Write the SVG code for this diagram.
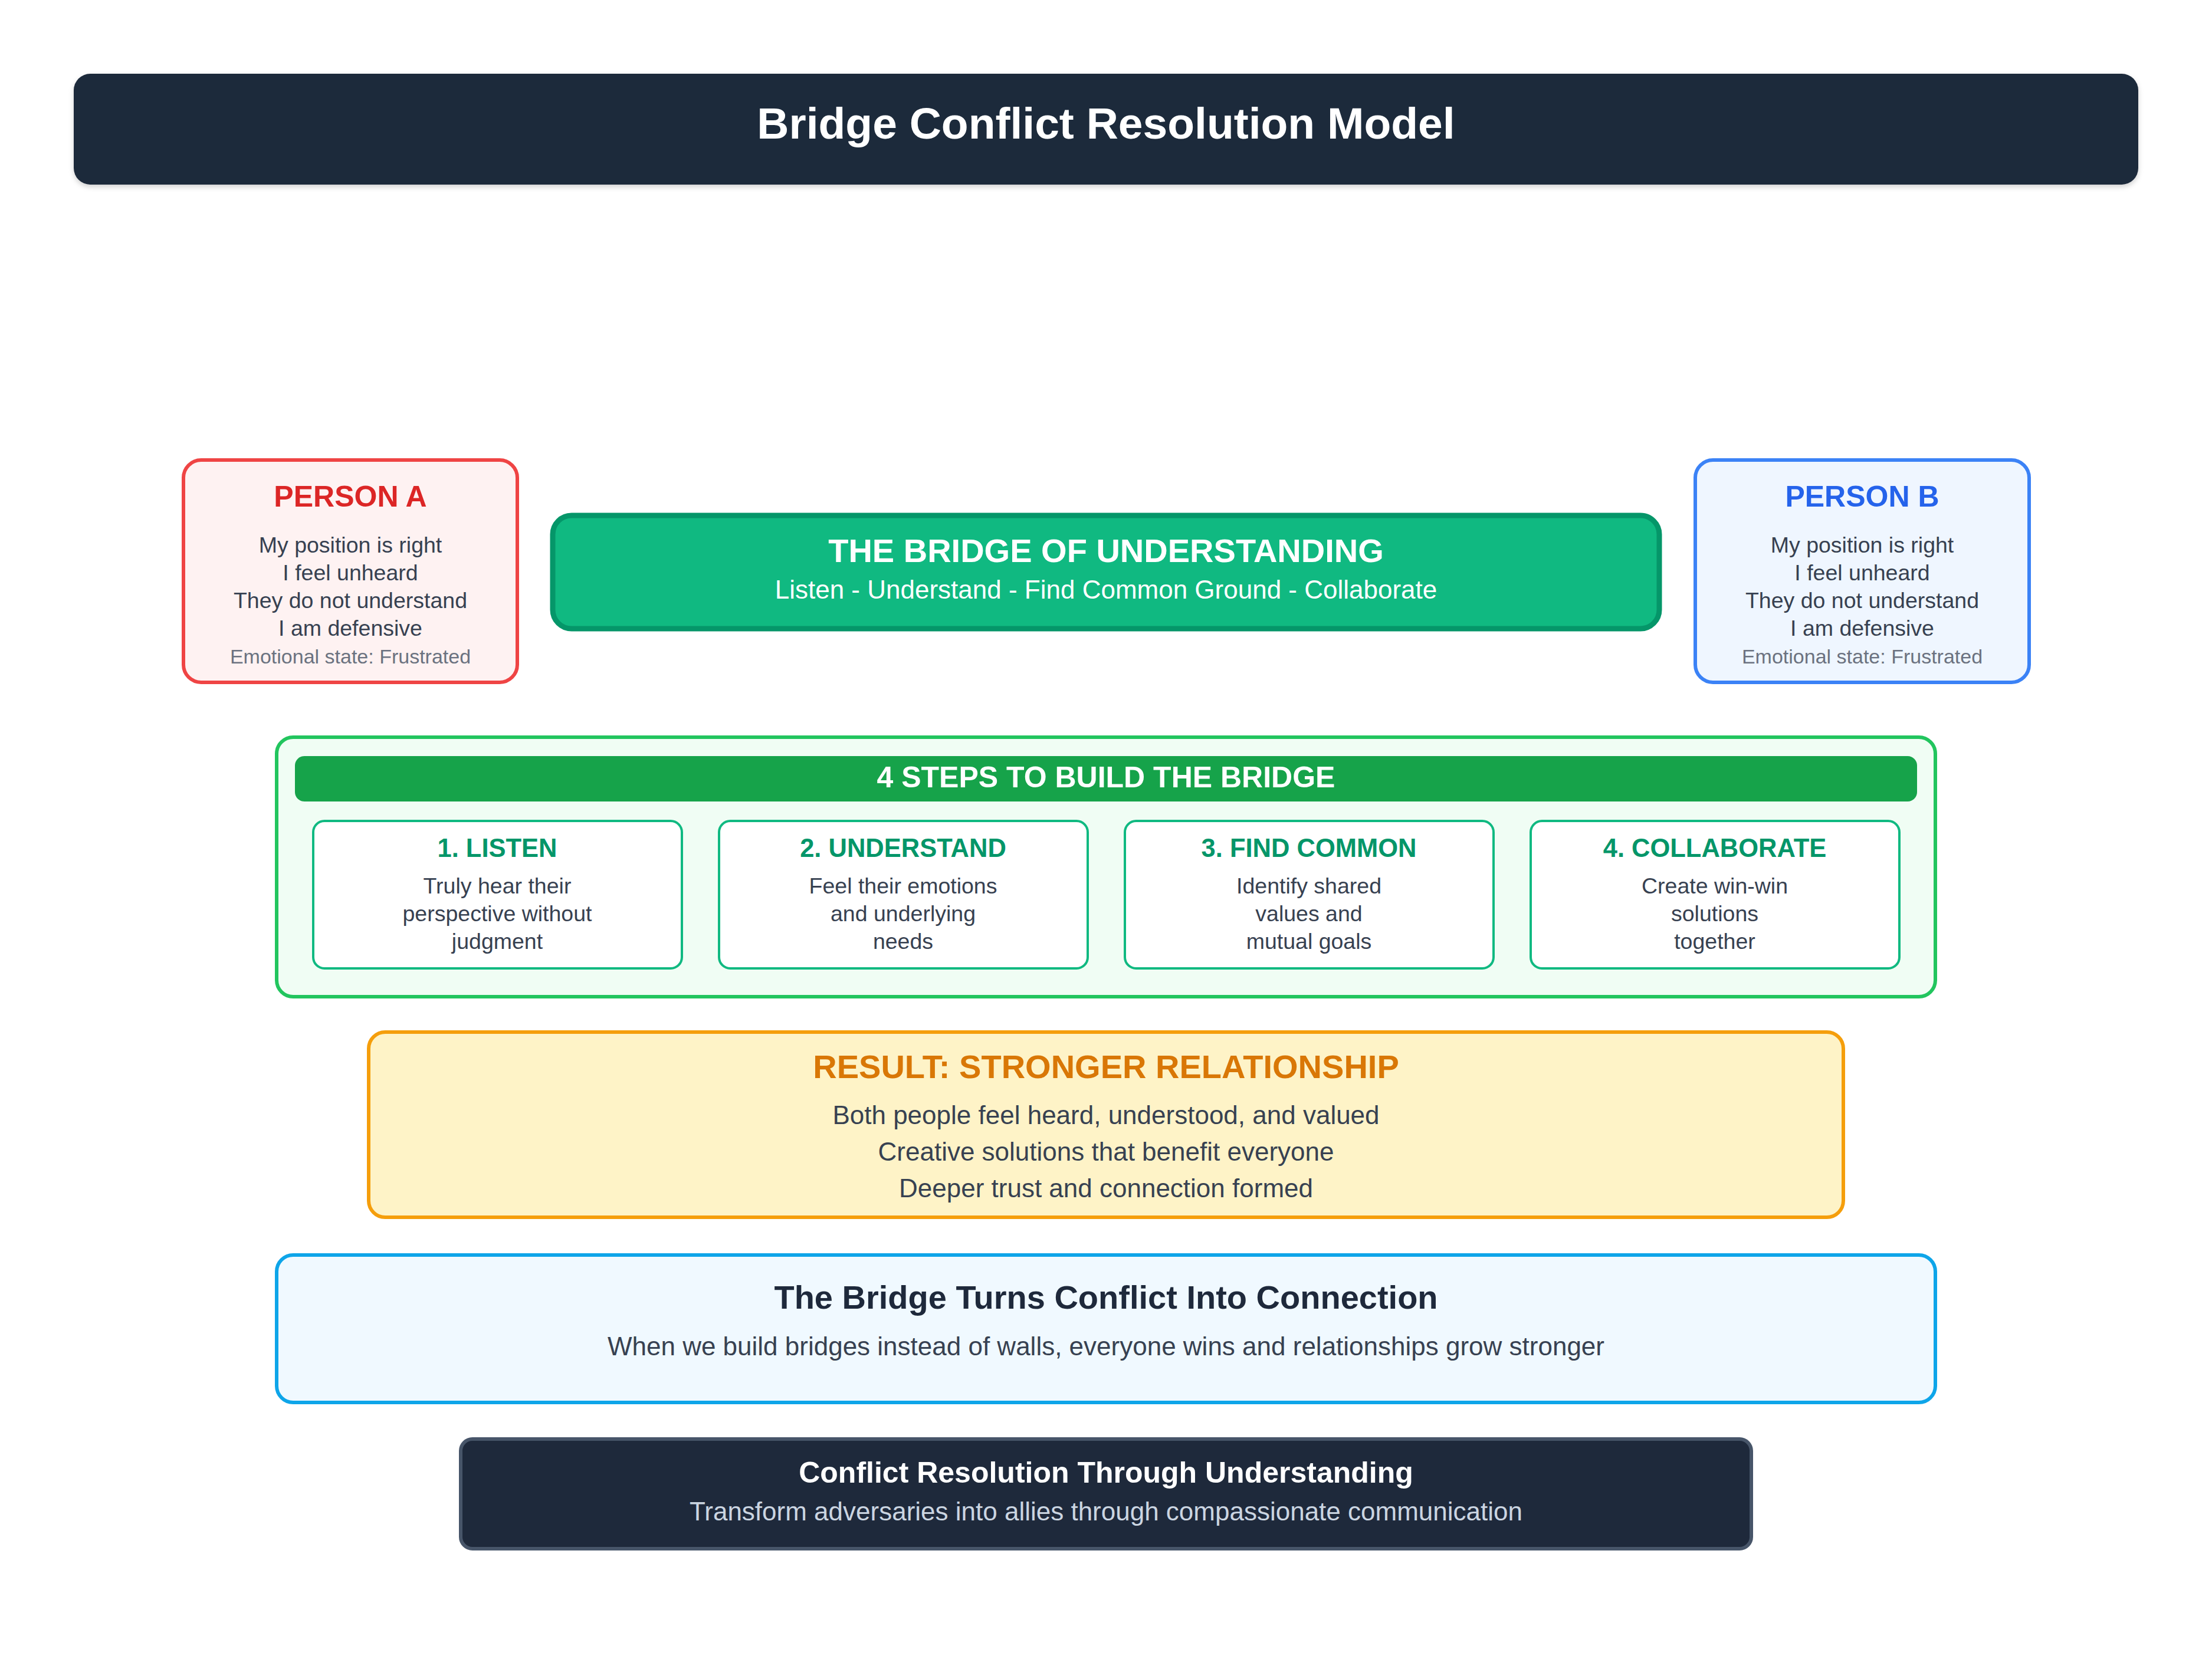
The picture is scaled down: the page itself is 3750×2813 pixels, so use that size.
<svg xmlns="http://www.w3.org/2000/svg" width="3750" height="2813" viewBox="0 0 3750 2813">
  <defs>
    <filter id="shadow" x="-5%" y="-20%" width="110%" height="150%">
      <feDropShadow dx="0" dy="4" stdDeviation="4" flood-color="#000000" flood-opacity="0.18"/>
    </filter>
    <style>
      text { font-family: "Liberation Sans", Arial, sans-serif; text-anchor: middle; }
      .b { font-weight: bold; }
      .body { fill: #374151; font-size: 37.5px; }
      .muted { fill: #6B7280; font-size: 34px; }
      .stepbox { fill: #FFFFFF; stroke: #10B981; stroke-width: 4; }
      .steptitle { fill: #059669; font-size: 43.5px; font-weight: bold; }
      .sub { font-size: 44px; }
    </style>
  </defs>
  <rect x="0" y="0" width="3750" height="2813" fill="#FFFFFF"/>

  <g id="header">
    <rect x="125" y="125" width="3500" height="188" rx="28" fill="#1E293B" filter="url(#shadow)"/>
    <text x="1875" y="235" class="b" font-size="75" fill="#FFFFFF">Bridge Conflict Resolution Model</text>
  </g>

  <g id="person-a">
    <rect x="311" y="780" width="566" height="377" rx="30" fill="#FEF2F2" stroke="#EF4444" stroke-width="6"/>
    <text x="594" y="859" class="b" font-size="50" fill="#DC2626">PERSON A</text>
    <text x="594" y="937" class="body">My position is right</text>
    <text x="594" y="984" class="body">I feel unheard</text>
    <text x="594" y="1031" class="body">They do not understand</text>
    <text x="594" y="1078" class="body">I am defensive</text>
    <text x="594" y="1125" class="muted">Emotional state: Frustrated</text>
  </g>

  <g id="bridge">
    <rect x="937" y="874" width="1876" height="192" rx="32" fill="#10B981" stroke="#059669" stroke-width="9"/>
    <text x="1875" y="953" class="b" font-size="56" fill="#FFFFFF">THE BRIDGE OF UNDERSTANDING</text>
    <text x="1875" y="1015" class="sub" fill="#FFFFFF">Listen - Understand - Find Common Ground - Collaborate</text>
  </g>

  <g id="person-b">
    <rect x="2874" y="780" width="566" height="377" rx="30" fill="#EFF6FF" stroke="#3B82F6" stroke-width="6"/>
    <text x="3157" y="859" class="b" font-size="50" fill="#2563EB">PERSON B</text>
    <text x="3157" y="937" class="body">My position is right</text>
    <text x="3157" y="984" class="body">I feel unheard</text>
    <text x="3157" y="1031" class="body">They do not understand</text>
    <text x="3157" y="1078" class="body">I am defensive</text>
    <text x="3157" y="1125" class="muted">Emotional state: Frustrated</text>
  </g>

  <g id="steps">
    <rect x="469" y="1250" width="2812" height="440" rx="28" fill="#F0FDF4" stroke="#22C55E" stroke-width="6"/>
    <rect x="500" y="1282" width="2750" height="77" rx="16" fill="#16A34A"/>
    <text x="1875" y="1335" class="b" font-size="50" fill="#FFFFFF">4 STEPS TO BUILD THE BRIDGE</text>
  </g>

  <g id="step-1">
    <rect class="stepbox" x="531" y="1392" width="625" height="250" rx="19"/>
    <text x="843" y="1453" class="steptitle">1. LISTEN</text>
    <text x="843" y="1515" class="body">Truly hear their</text>
    <text x="843" y="1562" class="body">perspective without</text>
    <text x="843" y="1609" class="body">judgment</text>
  </g>

  <g id="step-2">
    <rect class="stepbox" x="1219" y="1392" width="625" height="250" rx="19"/>
    <text x="1531" y="1453" class="steptitle">2. UNDERSTAND</text>
    <text x="1531" y="1515" class="body">Feel their emotions</text>
    <text x="1531" y="1562" class="body">and underlying</text>
    <text x="1531" y="1609" class="body">needs</text>
  </g>

  <g id="step-3">
    <rect class="stepbox" x="1907" y="1392" width="625" height="250" rx="19"/>
    <text x="2219" y="1453" class="steptitle">3. FIND COMMON</text>
    <text x="2219" y="1515" class="body">Identify shared</text>
    <text x="2219" y="1562" class="body">values and</text>
    <text x="2219" y="1609" class="body">mutual goals</text>
  </g>

  <g id="step-4">
    <rect class="stepbox" x="2595" y="1392" width="625" height="250" rx="19"/>
    <text x="2907" y="1453" class="steptitle">4. COLLABORATE</text>
    <text x="2907" y="1515" class="body">Create win-win</text>
    <text x="2907" y="1562" class="body">solutions</text>
    <text x="2907" y="1609" class="body">together</text>
  </g>

  <g id="result">
    <rect x="625" y="1750" width="2500" height="314" rx="28" fill="#FEF3C7" stroke="#F59E0B" stroke-width="6"/>
    <text x="1875" y="1828" class="b" font-size="56" fill="#D97706">RESULT: STRONGER RELATIONSHIP</text>
    <text x="1875" y="1906" class="sub" fill="#374151">Both people feel heard, understood, and valued</text>
    <text x="1875" y="1968" class="sub" fill="#374151">Creative solutions that benefit everyone</text>
    <text x="1875" y="2030" class="sub" fill="#374151">Deeper trust and connection formed</text>
  </g>

  <g id="message">
    <rect x="469" y="2128" width="2812" height="250" rx="28" fill="#F0F9FF" stroke="#0EA5E9" stroke-width="6"/>
    <text x="1875" y="2219" class="b" font-size="56" fill="#1E293B">The Bridge Turns Conflict Into Connection</text>
    <text x="1875" y="2298" class="sub" fill="#374151">When we build bridges instead of walls, everyone wins and relationships grow stronger</text>
  </g>

  <g id="footer">
    <rect x="781" y="2440" width="2188" height="186" rx="20" fill="#1E293B" stroke="#475569" stroke-width="6"/>
    <text x="1875" y="2514" class="b" font-size="50" fill="#FFFFFF">Conflict Resolution Through Understanding</text>
    <text x="1875" y="2578" class="sub" fill="#CBD5E1">Transform adversaries into allies through compassionate communication</text>
  </g>

  <g id="connectors"></g>
</svg>
